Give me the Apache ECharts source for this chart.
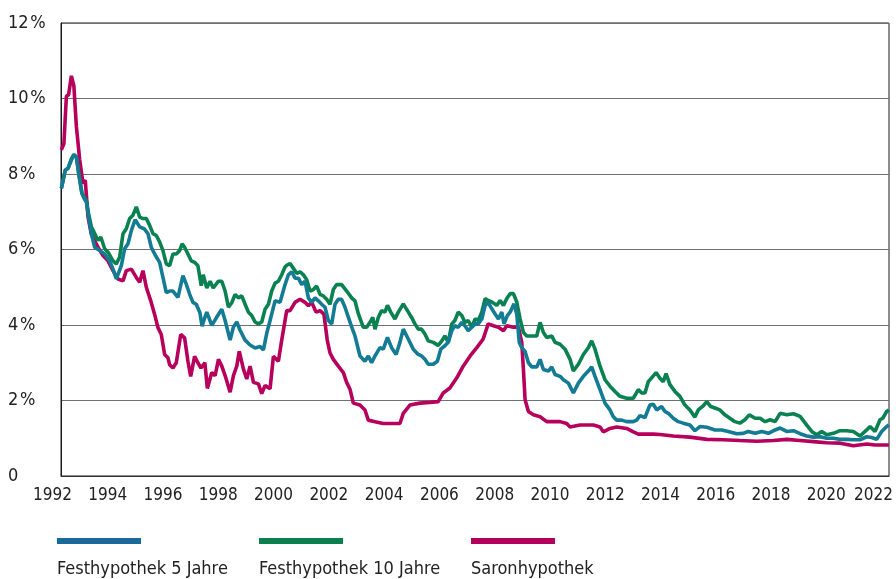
<!DOCTYPE html>
<html>
<head>
<meta charset="utf-8">
<script src="https://cdn.jsdelivr.net/npm/echarts@6/dist/echarts.min.js"></script>
<style>
html,body{margin:0;padding:0;background:#fff;}
#chart{width:896px;height:579px;}
</style>
</head>
<body>
<div id="chart"></div>
<script>
// ---- Data ----
const seriesNames = ['Festhypothek 5 Jahre', 'Festhypothek 10 Jahre', 'Saronhypothek'];
const xTickYears = [1992, 1994, 1996, 1998, 2000, 2002, 2004, 2006, 2008, 2010, 2012, 2014, 2016, 2018, 2020, 2022];
const yTickValues = [0, 2, 4, 6, 8, 10, 12];

const fix5Years = [1992.32,1992.46,1992.56,1992.68,1992.77,1992.86,1992.94,1993.06,1993.14,1993.22,1993.30,1993.40,1993.52,1993.70,1993.88,1994.06,1994.18,1994.30,1994.48,1994.60,1994.72,1994.84,1994.98,1995.14,1995.30,1995.44,1995.56,1995.68,1995.86,1995.98,1996.10,1996.22,1996.34,1996.52,1996.70,1996.82,1996.94,1997.06,1997.18,1997.31,1997.39,1997.49,1997.56,1997.74,1997.92,1998.10,1998.22,1998.40,1998.52,1998.64,1998.76,1998.94,1999.12,1999.30,1999.48,1999.60,1999.72,1999.84,2000.02,2000.20,2000.38,2000.50,2000.62,2000.74,2000.86,2000.98,2001.10,2001.22,2001.34,2001.46,2001.58,2001.70,2001.82,2001.94,2002.06,2002.18,2002.30,2002.42,2002.54,2002.66,2002.78,2002.90,2003.08,2003.26,2003.38,2003.50,2003.62,2003.80,2003.92,2004.07,2004.22,2004.38,2004.52,2004.64,2004.82,2005.00,2005.18,2005.30,2005.42,2005.54,2005.72,2005.87,2005.99,2006.14,2006.26,2006.39,2006.50,2006.62,2006.75,2006.86,2006.98,2007.11,2007.23,2007.34,2007.47,2007.59,2007.70,2007.83,2007.95,2008.07,2008.19,2008.27,2008.39,2008.49,2008.63,2008.73,2008.82,2008.91,2009.03,2009.15,2009.27,2009.45,2009.57,2009.69,2009.87,2009.99,2010.11,2010.29,2010.41,2010.59,2010.77,2010.95,2011.13,2011.31,2011.43,2011.55,2011.73,2011.91,2012.09,2012.21,2012.33,2012.51,2012.69,2012.93,2013.05,2013.17,2013.35,2013.53,2013.65,2013.77,2013.95,2014.07,2014.19,2014.37,2014.55,2014.73,2014.97,2015.15,2015.33,2015.58,2015.87,2016.12,2016.35,2016.66,2016.89,2017.07,2017.32,2017.56,2017.80,2018.04,2018.22,2018.46,2018.70,2018.94,2019.18,2019.42,2019.66,2019.90,2020.14,2020.38,2020.62,2020.86,2021.10,2021.34,2021.52,2021.70,2021.88,2022.06,2022.14];
const fix5Values = [7.62,8.10,8.15,8.37,8.50,8.46,8.02,7.48,7.35,7.26,6.86,6.42,6.06,5.97,5.88,5.70,5.48,5.22,5.57,6.02,6.15,6.50,6.79,6.60,6.55,6.42,6.06,5.88,5.66,5.26,4.86,4.90,4.90,4.73,5.31,5.08,4.82,4.60,4.55,4.33,3.97,4.20,4.34,3.99,4.21,4.42,4.12,3.60,3.95,4.08,3.86,3.60,3.47,3.39,3.43,3.34,3.78,4.12,4.64,4.60,5.07,5.33,5.41,5.24,5.24,5.07,5.16,4.72,4.60,4.72,4.64,4.55,4.47,4.12,4.03,4.55,4.68,4.68,4.47,4.21,3.95,3.71,3.18,3.04,3.18,3.00,3.18,3.40,3.36,3.67,3.40,3.22,3.54,3.89,3.63,3.36,3.22,3.18,3.09,2.96,2.96,3.04,3.36,3.45,3.54,3.85,3.98,3.94,4.07,3.98,3.85,3.94,4.03,4.03,4.16,4.52,4.60,4.43,4.29,4.16,4.34,4.03,4.25,4.34,4.56,4.29,3.54,3.40,3.30,3.00,2.89,2.89,3.09,2.82,2.78,2.89,2.69,2.64,2.55,2.46,2.20,2.46,2.64,2.78,2.89,2.64,2.29,1.93,1.75,1.57,1.48,1.48,1.44,1.44,1.48,1.60,1.55,1.88,1.90,1.75,1.84,1.71,1.66,1.53,1.44,1.40,1.35,1.20,1.31,1.29,1.22,1.22,1.18,1.12,1.13,1.18,1.13,1.18,1.13,1.22,1.27,1.18,1.20,1.12,1.06,1.03,1.04,1.00,1.00,0.97,0.97,0.96,0.96,1.04,1.02,0.97,1.18,1.31,1.35];

const fix10Years = [1992.32,1992.46,1992.56,1992.68,1992.77,1992.86,1992.94,1993.06,1993.14,1993.22,1993.30,1993.40,1993.52,1993.64,1993.74,1993.88,1994.00,1994.18,1994.30,1994.42,1994.54,1994.66,1994.78,1994.90,1995.02,1995.14,1995.26,1995.38,1995.50,1995.62,1995.74,1995.86,1995.98,1996.10,1996.22,1996.34,1996.46,1996.58,1996.67,1996.76,1996.88,1997.00,1997.12,1997.24,1997.36,1997.43,1997.56,1997.68,1997.79,1997.98,1998.10,1998.22,1998.34,1998.46,1998.58,1998.70,1998.82,1998.94,1999.06,1999.18,1999.30,1999.42,1999.54,1999.66,1999.78,1999.90,2000.02,2000.14,2000.26,2000.38,2000.46,2000.56,2000.68,2000.80,2000.92,2001.04,2001.16,2001.28,2001.40,2001.52,2001.64,2001.76,2001.88,2002.00,2002.12,2002.24,2002.42,2002.60,2002.78,2002.90,2003.02,2003.20,2003.32,2003.44,2003.54,2003.62,2003.74,2003.86,2003.98,2004.07,2004.19,2004.34,2004.46,2004.64,2004.79,2004.94,2005.06,2005.18,2005.30,2005.42,2005.54,2005.72,2005.90,2006.03,2006.14,2006.26,2006.39,2006.50,2006.62,2006.75,2006.86,2006.98,2007.11,2007.23,2007.34,2007.47,2007.59,2007.70,2007.83,2008.01,2008.13,2008.25,2008.37,2008.49,2008.61,2008.73,2008.85,2008.97,2009.09,2009.27,2009.45,2009.57,2009.69,2009.81,2009.99,2010.11,2010.29,2010.47,2010.65,2010.77,2010.95,2011.13,2011.31,2011.43,2011.55,2011.73,2011.91,2012.09,2012.27,2012.45,2012.69,2012.93,2013.11,2013.23,2013.35,2013.47,2013.59,2013.75,2013.89,2014.01,2014.11,2014.25,2014.43,2014.61,2014.79,2014.97,2015.15,2015.27,2015.45,2015.58,2015.72,2015.87,2016.05,2016.23,2016.41,2016.59,2016.77,2016.95,2017.11,2017.32,2017.50,2017.68,2017.86,2018.04,2018.22,2018.46,2018.70,2018.94,2019.18,2019.36,2019.54,2019.72,2019.90,2020.14,2020.38,2020.62,2020.86,2021.10,2021.34,2021.46,2021.64,2021.82,2021.92,2022.06,2022.14];
const fix10Values = [7.62,8.10,8.15,8.40,8.52,8.45,8.05,7.50,7.40,7.30,6.95,6.60,6.42,6.24,6.33,6.02,5.93,5.70,5.62,5.80,6.42,6.55,6.82,6.91,7.13,6.86,6.82,6.82,6.64,6.42,6.37,6.20,5.97,5.62,5.57,5.88,5.88,5.97,6.15,6.06,5.88,5.70,5.66,5.57,5.04,5.33,4.98,5.16,4.98,5.16,5.16,4.90,4.47,4.59,4.81,4.72,4.77,4.55,4.34,4.25,4.08,4.03,4.08,4.42,4.55,4.90,5.11,5.16,5.33,5.54,5.59,5.63,5.50,5.37,5.41,5.33,5.20,4.90,4.94,5.03,4.81,4.77,4.68,4.55,4.94,5.07,5.07,4.90,4.72,4.64,4.30,3.94,3.94,4.07,4.20,3.89,4.20,4.38,4.34,4.52,4.34,4.16,4.34,4.56,4.38,4.20,4.03,3.89,3.89,3.76,3.58,3.54,3.46,3.58,3.71,3.54,4.03,4.12,4.34,4.25,4.07,4.12,3.94,4.16,4.12,4.34,4.70,4.65,4.61,4.52,4.65,4.52,4.70,4.83,4.83,4.61,4.16,3.80,3.71,3.71,3.71,4.07,3.80,3.67,3.71,3.54,3.49,3.36,3.09,2.78,2.96,3.22,3.40,3.58,3.36,2.91,2.55,2.38,2.24,2.11,2.06,2.06,2.29,2.20,2.20,2.50,2.60,2.74,2.59,2.50,2.71,2.42,2.24,2.11,1.88,1.75,1.56,1.75,1.86,1.97,1.84,1.80,1.75,1.62,1.53,1.44,1.40,1.49,1.62,1.53,1.53,1.44,1.49,1.44,1.66,1.62,1.65,1.58,1.35,1.18,1.09,1.18,1.09,1.13,1.20,1.20,1.18,1.06,1.22,1.31,1.18,1.49,1.53,1.71,1.75];

const saronYears = [1992.32,1992.41,1992.50,1992.58,1992.68,1992.77,1992.86,1992.98,1993.10,1993.18,1993.28,1993.40,1993.64,1993.82,1994.00,1994.18,1994.36,1994.54,1994.66,1994.84,1995.02,1995.14,1995.26,1995.38,1995.54,1995.68,1995.80,1995.92,1996.04,1996.16,1996.22,1996.34,1996.46,1996.62,1996.76,1996.88,1996.98,1997.12,1997.24,1997.35,1997.49,1997.58,1997.74,1997.86,1997.98,1998.10,1998.22,1998.40,1998.52,1998.64,1998.73,1998.88,1999.00,1999.12,1999.24,1999.42,1999.54,1999.66,1999.84,1999.96,2000.14,2000.26,2000.44,2000.56,2000.74,2000.92,2001.10,2001.22,2001.34,2001.50,2001.64,2001.78,2001.90,2002.00,2002.12,2002.30,2002.48,2002.60,2002.72,2002.84,2003.08,2003.26,2003.38,2003.62,2003.92,2004.22,2004.52,2004.64,2004.88,2005.24,2005.60,2005.90,2006.08,2006.32,2006.57,2006.80,2007.05,2007.29,2007.52,2007.70,2007.89,2008.07,2008.25,2008.37,2008.61,2008.79,2008.91,2008.97,2009.03,2009.15,2009.33,2009.57,2009.81,2010.29,2010.53,2010.65,2011.01,2011.49,2011.73,2011.85,2012.09,2012.33,2012.69,2012.93,2013.11,2013.65,2013.89,2014.37,2014.97,2015.58,2016.17,2016.77,2017.38,2017.98,2018.46,2018.94,2019.42,2019.90,2020.38,2020.86,2021.34,2021.64,2022.14];
const saronValues = [8.64,8.80,10.06,10.10,10.60,10.33,9.26,8.37,7.75,7.84,6.86,6.40,6.06,5.84,5.70,5.44,5.22,5.17,5.44,5.48,5.26,5.13,5.44,5.00,4.64,4.28,3.93,3.75,3.22,3.13,2.95,2.86,3.00,3.75,3.66,3.04,2.64,3.17,3.00,2.86,3.00,2.32,2.74,2.66,3.09,2.91,2.66,2.22,2.66,2.91,3.30,2.83,2.57,2.91,2.48,2.44,2.18,2.40,2.31,3.17,3.04,3.60,4.38,4.38,4.60,4.68,4.60,4.51,4.60,4.34,4.38,4.29,3.60,3.26,3.09,2.91,2.74,2.48,2.30,1.93,1.88,1.75,1.48,1.44,1.39,1.39,1.39,1.66,1.88,1.93,1.95,1.97,2.20,2.33,2.60,2.91,3.18,3.40,3.63,4.03,3.98,3.94,3.85,3.98,3.94,3.94,3.54,2.82,2.02,1.71,1.62,1.57,1.44,1.44,1.39,1.30,1.35,1.35,1.30,1.17,1.26,1.30,1.26,1.17,1.11,1.11,1.10,1.06,1.03,0.97,0.96,0.94,0.92,0.94,0.97,0.94,0.91,0.88,0.87,0.80,0.85,0.82,0.82];

const lineColors = ['#137b93', '#0a8150', '#b6005c'];
const legendColors = ['#1b689b', '#0b7f4f', '#b3005d'];

// ---- Build ----
function zip(xs, ys) { return xs.map((x, i) => [x, ys[i]]); }
const FONT = "'Liberation Sans Narrow', 'DejaVu Sans Condensed', 'Roboto Condensed', 'Liberation Sans', sans-serif";
const chart = echarts.init(document.getElementById('chart'), null, { renderer: 'canvas' });

function makeLegend(idx, left) {
  const rich = {
    bar: { width: 84, height: 6, lineHeight: 6, backgroundColor: legendColors[idx] },
    txt: { fontSize: 18, lineHeight: 50, color: '#222', fontFamily: FONT }
  };
  return {
    data: [seriesNames[idx]],
    left: left, top: 532, padding: 0, itemWidth: 0, itemHeight: 0, icon: 'rect',
    selectedMode: false,
    formatter: name => '{bar|}\n{txt|' + name + '}',
    textStyle: { rich: rich, fontFamily: FONT, fontSize: 18, color: '#222' }
  };
}

const option = {
  animation: false,
  backgroundColor: '#ffffff',
  grid: [
    { left: 61, right: 7, top: 23, bottom: 103, show: true, borderColor: '#1a1a1a', borderWidth: 1, backgroundColor: 'transparent' },
    { left: 52.5, right: 11, top: 23, bottom: 103, show: false }
  ],
  legend: [makeLegend(0, 52), makeLegend(1, 254), makeLegend(2, 466)],
  xAxis: [
    { type: 'value', gridIndex: 0, min: 1992.306, max: 2022.144,
      axisLine: { show: true, lineStyle: { color: '#333', width: 1 } },
      axisTick: { show: false }, axisLabel: { show: false }, splitLine: { show: false } },
    { type: 'value', gridIndex: 1, min: xTickYears[0], max: xTickYears[xTickYears.length - 1], interval: 2,
      axisLine: { show: false }, axisTick: { show: false }, splitLine: { show: false },
      axisLabel: { show: true, margin: 11, fontSize: 17, color: '#222', fontFamily: FONT,
        showMinLabel: true, showMaxLabel: true,
        formatter: v => v === xTickYears[xTickYears.length - 1] ? '{last|' + v + '}' : String(v),
        rich: { last: { fontSize: 17, color: '#222', fontFamily: FONT, padding: [0, 16, 0, 0] } } } }
  ],
  yAxis: [
    { type: 'value', gridIndex: 0, min: yTickValues[0], max: yTickValues[yTickValues.length - 1], interval: 2,
      axisLine: { show: true, lineStyle: { color: '#1a1a1a', width: 1 } }, axisTick: { show: false },
      splitLine: { show: true, lineStyle: { color: '#707070', width: 1 } },
      axisLabel: { align: 'left', margin: 53, fontSize: 18, color: '#222', fontFamily: FONT,
        formatter: v => v === 0 ? '0' : v + '\u200A%' } },
    { type: 'value', gridIndex: 1, show: false, min: 0, max: 12 }
  ],
  series: [
    { name: seriesNames[2], type: 'line', xAxisIndex: 0, yAxisIndex: 0, data: zip(saronYears, saronValues),
      showSymbol: false, symbol: 'none', lineStyle: { color: lineColors[2], width: 3.6 }, itemStyle: { color: legendColors[2] }, z: 3 },
    { name: seriesNames[1], type: 'line', xAxisIndex: 0, yAxisIndex: 0, data: zip(fix10Years, fix10Values),
      showSymbol: false, symbol: 'none', lineStyle: { color: lineColors[1], width: 3.6 }, itemStyle: { color: legendColors[1] }, z: 4 },
    { name: seriesNames[0], type: 'line', xAxisIndex: 0, yAxisIndex: 0, data: zip(fix5Years, fix5Values),
      showSymbol: false, symbol: 'none', lineStyle: { color: lineColors[0], width: 3.6 }, itemStyle: { color: legendColors[0] }, z: 5 }
  ]
};
chart.setOption(option);
</script>
</body>
</html>
